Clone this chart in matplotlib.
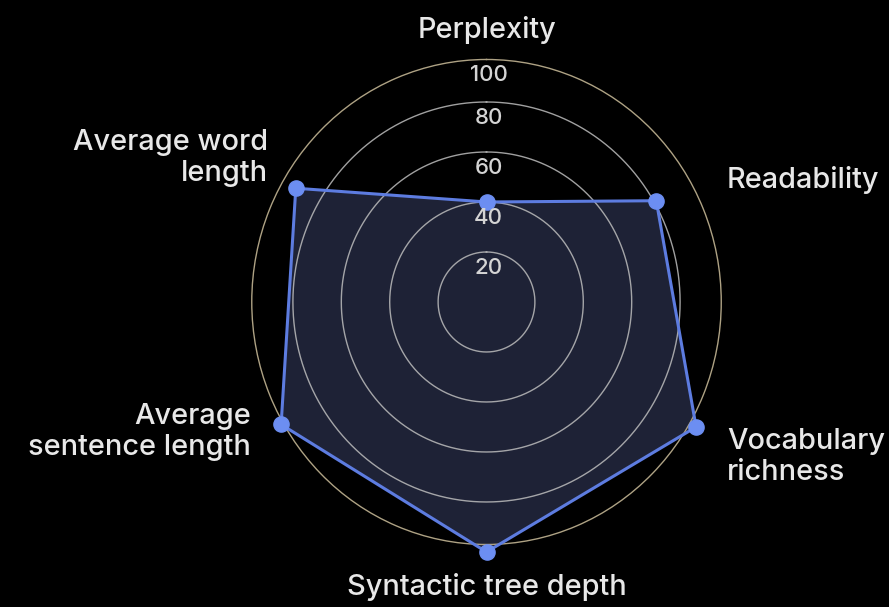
import numpy as np
import matplotlib
matplotlib.use("Agg")
import matplotlib.pyplot as plt

plt.rcParams['font.family'] = ['Inter', 'DejaVu Sans']

# data
categories = [
    "Perplexity",
    "Readability",
    "Vocabulary\nrichness",
    "Syntactic tree depth",
    "Average\nsentence length",
    "Average word\nlength",
]
scores = [40, 81, 100, 100, 98, 91]
ring_values = [20, 40, 60, 80]
ring_labels = ["20", "40", "60", "80", "100"]
scale_max = 97  # outer ring, labelled "100"

# label placement: (dx, dy) in pixels from the r=100 point, alignment
label_layout = [
    ((0, 22), "center"),
    ((31, -3), "left"),
    ((31, -30), "left"),
    ((0, -35), "center"),
    ((-26, -5), "right"),
    ((-9, 19), "right"),
]

BG = "#000000"
FILL = "#1e2236"
LINE = "#5d7ce0"
POINT = "#6c8ef2"
GRID = "#bdbdbd"
OUTER = "#aea284"
TEXT = "#e8e8e8"

fig = plt.figure(figsize=(8.89, 6.07), dpi=100)
fig.patch.set_facecolor(BG)
ax = fig.add_axes([0.2832, 0.1030, 0.5281, 0.7990], projection="polar")
ax.set_aspect("auto")
ax.set_facecolor(BG)
ax.set_theta_zero_location("N")
ax.set_theta_direction(-1)

angles = np.linspace(0, 2 * np.pi, len(categories), endpoint=False)
closed_angles = np.concatenate([angles, angles[:1]])
closed_scores = np.concatenate([scores, scores[:1]])

ax.set_ylim(0, scale_max)
ax.set_yticks(ring_values)
ax.set_yticklabels([])
ax.set_xticks(angles)
ax.set_xticklabels([])
ax.xaxis.grid(False)
ax.yaxis.grid(False)
ax.spines["polar"].set_color(OUTER)
ax.spines["polar"].set_linewidth(1.0)
ax.tick_params(length=0)

ax.fill(closed_angles, closed_scores, color=FILL, zorder=2, clip_on=False)
t = np.linspace(0, 2 * np.pi, 361)
for v in ring_values:
    ax.plot(t, np.full_like(t, v), color=GRID, linewidth=1.0,
            alpha=0.85, zorder=3)
ax.plot(closed_angles, closed_scores, color=LINE, linewidth=2.2,
        zorder=4, clip_on=False)
ax.scatter(angles, scores, s=120, color=POINT, zorder=5, clip_on=False)

for v, lab in zip(ring_values + [scale_max], ring_labels):
    ax.annotate(lab, xy=(0, v), xytext=(2, -16), textcoords="offset pixels",
                ha="center", va="center", fontsize=16, fontweight="medium",
                color="#d4d4d4", zorder=6, annotation_clip=False)

for ang, lab, (off, ha) in zip(angles, categories, label_layout):
    ax.annotate(lab, xy=(ang, 100), xytext=off, textcoords="offset pixels",
                ha=ha, va="center", fontsize=20.8, fontweight="medium",
                color=TEXT, linespacing=1.2, multialignment=ha,
                annotation_clip=False)

plt.savefig("out.png", dpi=100, facecolor=BG)
